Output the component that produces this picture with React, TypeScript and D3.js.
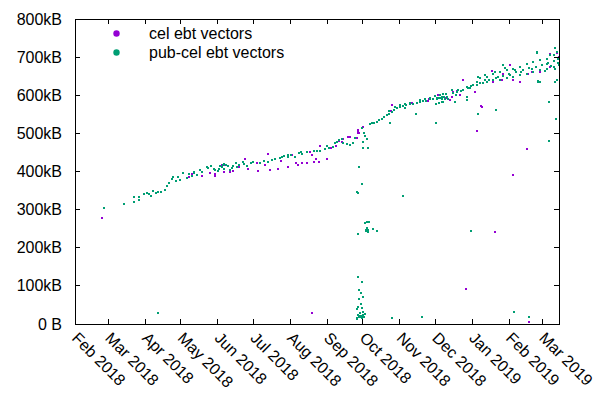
import React from "react";
import * as d3 from "d3";

const START_DATE = "2018-02-01";
const END_DATE = "2019-03-15";
const SERIES_NAMES = ["cel ebt vectors", "pub-cel ebt vectors"];
const SERIES_COLORS = ["#9400d3", "#009e73"];
const Y_TICKS = [0, 100, 200, 300, 400, 500, 600, 700, 800];
const X_TICKS = [
  "2018-02-01", "2018-03-01", "2018-04-01", "2018-05-01", "2018-06-01", "2018-07-01",
  "2018-08-01", "2018-09-01", "2018-10-01", "2018-11-01", "2018-12-01", "2019-01-01",
  "2019-02-01", "2019-03-01",
];

// [days since START_DATE, size in kB]
const CEL_POINTS: [number, number][] = [
  [23, 277], [95.9, 386], [98.1, 393], [102.8, 391], [107.1, 388], [113.5, 395], [117.7, 393],
  [117.7, 388], [123.4, 416], [125.6, 418], [125.6, 400], [130.4, 399], [133.1, 402], [137.9, 411],
  [143, 432], [145.7, 406], [152.8, 421], [154.2, 401], [159.8, 417], [162.6, 446], [164, 404],
  [171, 406], [173.2, 428], [179.4, 411], [182.8, 442], [185.6, 421], [187.8, 417], [191.2, 447],
  [191.2, 421], [194.9, 421], [197.6, 451], [199.6, 443], [201, 426], [202.7, 432], [205.2, 426],
  [206, 467], [211.7, 434], [214.5, 461], [219.2, 467], [224.3, 478], [225.6, 484], [215, 461],
  [222, 481], [229.2, 490], [231.3, 490], [236.9, 487], [238.3, 509], [238.3, 505], [238.3, 500],
  [239.1, 500], [242.5, 516], [199, 28], [266.7, 574], [265.9, 559], [283.2, 579], [297.2, 586],
  [298.1, 589], [305.3, 601], [312, 592], [315.4, 587], [326.6, 641], [318.2, 609], [321, 611],
  [316.8, 596], [323.8, 601], [336.4, 609], [350.4, 664], [360.2, 657], [365.9, 679], [359, 640],
  [351.8, 635], [384.1, 662], [381.3, 657], [391.1, 662], [399.5, 708], [405.2, 710], [406.6, 701],
  [399.5, 674], [342, 570], [368.6, 640], [374.3, 635], [368.6, 391], [380.4, 458], [338.3, 506],
  [341.7, 572], [353.5, 242], [328.6, 91], [382.1, 6],
];

const PUB_CEL_POINTS: [number, number][] = [
  [24.6, 303], [41.5, 314], [49.9, 320], [49.9, 334], [54.1, 332], [54.1, 325], [58.3, 340],
  [60.3, 343], [62.2, 340], [63.9, 337], [65.9, 350], [68.1, 343], [69.6, 347], [70.1, 28],
  [72.3, 347], [75.7, 351], [77.1, 362], [79.3, 370], [81.3, 381], [82.7, 385], [84.7, 374],
  [86.9, 385], [88.6, 378], [91.1, 395], [94.2, 382], [95.9, 393], [98.1, 388], [99.8, 400],
  [102.3, 391], [105.1, 404], [107.1, 398], [110.8, 411], [114.4, 414], [117.1, 406], [120, 402],
  [121.9, 414], [124.2, 416], [125.6, 406], [121.1, 407], [123.9, 411], [125.6, 420], [128.9, 414],
  [130.4, 404], [132.3, 408], [135.1, 423], [136, 411], [141.5, 426], [142.4, 420], [144.4, 414],
  [148, 421], [155.6, 421], [159.2, 428], [165.9, 430], [172.4, 435], [173.8, 439], [178.9, 443],
  [179.4, 437], [185, 437], [190.1, 452], [191.2, 446], [201.3, 455], [203.3, 455], [210.3, 458],
  [211.7, 467], [217.2, 463], [218.7, 474], [220.1, 477], [222, 483], [224.8, 484], [225.6, 474],
  [228.5, 472], [231.3, 469], [234, 474], [235.5, 488], [217.2, 465],
  [100, 396], [112, 408], [118, 404], [127, 417], [133, 415], [138, 418], [150, 425], [162, 426],
  [168, 432], [176, 440], [182, 442], [188, 448], [195, 450], [206, 455], [214, 462],
  [238.8, 413], [241.4, 367], [237.4, 346], [237.7, 344], [241.6, 366], [243.9, 493], [245.3, 484],
  [241.9, 477], [242.5, 461], [246.7, 461], [243.3, 502], [241.6, 513], [243.9, 264], [245.8, 268],
  [247.5, 267], [244.7, 246], [246.7, 242], [245.3, 251], [250.9, 248], [253.7, 244], [238.3, 236],
  [245, 245], [246, 247],
  [238.3, 122], [241.6, 111], [239.1, 89], [240.3, 82], [242.5, 72], [238.8, 65], [240.3, 52],
  [238.3, 45], [241.1, 41], [237.4, 39], [242.5, 32], [239.7, 28], [238.3, 24], [240.3, 19],
  [241.9, 24], [243.3, 19], [236.9, 15], [239.1, 18], [241.1, 17], [237.4, 12], [239.7, 20],
  [240.5, 21], [241.4, 20], [242.2, 22], [238.8, 22], [243.9, 25],
  [266.4, 15], [291.6, 18], [333, 245], [369.5, 32], [382.1, 18], [276.1, 337], [264.9, 526],
  [354.2, 561], [339.2, 552], [303.6, 526], [286.8, 550], [398.9, 479], [404.5, 539], [398.9, 581],
  [388.8, 712], [389.1, 638], [391.1, 635], [403.7, 635], [329.4, 587],
  [248.1, 524], [249.8, 526], [251.5, 528], [253.7, 531], [255.7, 535], [257.9, 539], [259.9, 543],
  [262.6, 548], [264.1, 552], [266.4, 557], [268.3, 561], [270.5, 566], [273.3, 569], [276.1, 572],
  [278.4, 575], [281.7, 577], [284.3, 578], [287.4, 580], [290.1, 583], [293, 585], [295.2, 586],
  [298.6, 589], [301.1, 590], [304.2, 592], [306.1, 593], [308.4, 595], [310.3, 596],
  [264.1, 559], [269.1, 568], [273.3, 574], [277.5, 577], [281.7, 580], [290.1, 587], [294.4, 590],
  [298.6, 592], [302.8, 598], [307, 600], [308.7, 590], [312.1, 603], [277.5, 566],
  [309.8, 603], [304.2, 589], [303.6, 576], [306.4, 579], [308.4, 583], [311.2, 589], [314, 589],
  [312.3, 603],
  [307, 592], [312.6, 596], [318.2, 605], [322.4, 614], [326.6, 615], [330.8, 618], [335, 627],
  [340.7, 631], [346.3, 635], [351.8, 640], [357.5, 641], [363.1, 644], [368.6, 649], [374.3, 653],
  [379.9, 657], [385.5, 662], [391.1, 666], [396.8, 670], [402.4, 674], [406.6, 679],
  [316.8, 614], [321, 609], [329.4, 622], [337.8, 635], [340.7, 644], [346.3, 649], [351.8, 657],
  [357.5, 662], [363.1, 666], [368.6, 670], [374.3, 674], [379.9, 683], [385.5, 688], [391.1, 692],
  [396.8, 696], [402.4, 705], [405.2, 714], [403.7, 723],
  [309.8, 583], [319.7, 583], [329.4, 596], [389.7, 635], [405.2, 640], [359.7, 679], [388.8, 714],
  [399.5, 705], [396.8, 683], [353.2, 661], [361.6, 671], [370, 666], [344.8, 653], [338.9, 648],
  [320, 600], [325, 612], [332, 620], [338, 628], [343, 633], [348, 640], [354, 645], [360, 650],
  [365, 655], [371, 660], [377, 665], [382, 672], [388, 675], [393, 680], [398, 685], [403, 690],
  [406, 695], [406, 685], [404, 668], [400, 676], [395, 664], [384, 668], [375, 660], [366, 652],
  [356, 648], [345, 640], [333, 624],
];

const FONT = "'Liberation Sans', Arial, sans-serif";

export default function App() {
  const width = 600;
  const height = 400;
  const left = 75, right = 559, top = 19, bottom = 324;
  const parse = d3.utcParse("%Y-%m-%d");
  const start = parse(START_DATE) as Date;
  const x = d3.scaleUtc().domain([start, parse(END_DATE) as Date]).range([left, right]);
  const y = d3.scaleLinear().domain([0, 800]).range([bottom, top]);
  const toDate = (d: number) => new Date(start.getTime() + d * 86400000);
  const tickLen = 5;
  const yFmt = (v: number) => (v === 0 ? "0 B" : `${v}kB`);
  const series = [CEL_POINTS, PUB_CEL_POINTS];

  return (
    <svg width={width} height={height} style={{ position: "absolute", left: 0, top: 0, background: "#fff" }}
      fontFamily={FONT} fontSize={16}>
      <rect x={0} y={0} width={width} height={height} fill="#fff" />
      {series.map((pts, si) => (
        <g key={si} fill={SERIES_COLORS[si]} shapeRendering="crispEdges">
          {pts.map(([d, v], i) => (
            <rect key={i} x={Math.round(x(toDate(d))) - 1} y={Math.round(y(v)) - 1} width={2} height={2} />
          ))}
        </g>
      ))}
      <g stroke="#000" strokeWidth={1} shapeRendering="crispEdges" fill="none">
        <rect x={left} y={top} width={right - left} height={bottom - top} />
        {Y_TICKS.map((t) => (
          <g key={t}>
            <line x1={left} x2={left + tickLen} y1={y(t)} y2={y(t)} />
            <line x1={right} x2={right - tickLen} y1={y(t)} y2={y(t)} />
          </g>
        ))}
        {X_TICKS.map((t) => {
          const xx = x(parse(t) as Date);
          return (
            <g key={t}>
              <line x1={xx} x2={xx} y1={bottom} y2={bottom - tickLen} />
              <line x1={xx} x2={xx} y1={top} y2={top + tickLen} />
            </g>
          );
        })}
      </g>
      <g fill="#000">
        {Y_TICKS.map((t) => (
          <text key={t} x={62} y={y(t)} textAnchor="end" dominantBaseline="central">{yFmt(t)}</text>
        ))}
        {X_TICKS.map((t) => {
          const xx = x(parse(t) as Date) - 4;
          const yy = 339;
          return (
            <text key={t} x={xx} y={yy} transform={`rotate(45 ${xx} ${yy})`} textAnchor="start">
              {d3.utcFormat("%b %Y")(parse(t) as Date)}
            </text>
          );
        })}
      </g>
      <g>
        {SERIES_NAMES.map((name, i) => (
          <g key={name}>
            <circle cx={116.5} cy={33.5 + i * 19} r={3.2} fill={SERIES_COLORS[i]} />
            <text x={149} y={33.5 + i * 19} dominantBaseline="central" fill="#000">{name}</text>
          </g>
        ))}
      </g>
    </svg>
  );
}
